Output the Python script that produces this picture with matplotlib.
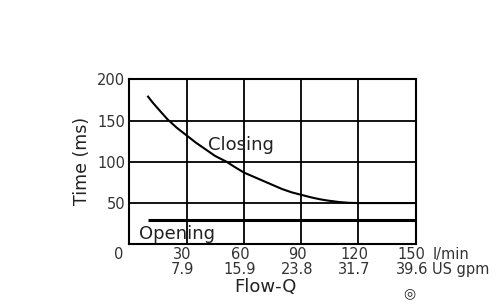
import matplotlib
matplotlib.use("Agg")
import matplotlib.pyplot as plt
import matplotlib.transforms as mtransforms

# Data
closing_flow = [9.5, 12, 15, 20, 25, 30, 35, 40, 45, 51, 55, 60, 65, 70, 75, 80, 85, 90, 95, 100, 104, 110, 115, 120, 135, 150]
closing_time = [180, 172.5, 164.5, 151.5, 141, 132, 123, 115, 107, 100, 94, 87, 82, 77, 72, 67, 63, 60, 57, 54.5, 53, 51.2, 50.3, 50, 50, 50]
opening_flow = [10, 150]
opening_time = [30, 30]
x_ticks = [30, 60, 90, 120, 150]
x_lpm = ["30", "60", "90", "120", "150"]
x_gpm = ["7.9", "15.9", "23.8", "31.7", "39.6"]
y_ticks = [50, 100, 150, 200]

plt.rcParams['font.family'] = ['DejaVu Sans']
fig = plt.figure(figsize=(5, 3.05), dpi=100)
ax = fig.add_axes([0.2586, 0.199, 0.5728, 0.541])
ax.set_xlim(0, 150)
ax.set_ylim(0, 200)

ax.plot(closing_flow, closing_time, color='black', lw=1.5, solid_capstyle='butt', solid_joinstyle='round')
ax.plot(opening_flow, opening_time, color='black', lw=2.2, solid_capstyle='butt')

ax.set_xticks(x_ticks)
ax.set_yticks(y_ticks)
ax.set_yticklabels([str(v) for v in y_ticks], fontsize=10.5, color='#333333')
ax.tick_params(length=0, pad=3)
ax.tick_params(axis='x', labelbottom=False)
ax.grid(True, color='black', lw=1.3)
for s in ax.spines.values():
    s.set_linewidth(1.5)

off = mtransforms.ScaledTranslation(-4/100, -3/100, fig.dpi_scale_trans)
xt = ax.get_xaxis_transform() + off
for x, a, b in zip(x_ticks, x_lpm, x_gpm):
    ax.text(x, 0, f"{a}\n{b}", transform=xt, ha='center', va='top',
            fontsize=10.5, linespacing=1.0, color='#333333')

ax.text(-3, -3, "0", ha='right', va='top', fontsize=10.5, color='#333333')
ax.text(160.8, 0, "l/min\nUS gpm", transform=xt, ha='left', va='top', fontsize=10.5, linespacing=1.0, color='#333333')

ax.text(58.3, 120, "Closing", ha='center', va='center', fontsize=13, color='#222222')
ax.text(5, 13, "Opening", ha='left', va='center', fontsize=13, color='#222222')

fig.text(265/500, 1 - 287/305, "Flow-Q", ha='center', va='center', fontsize=13, color='#222222')
fig.text(82/500, 1 - 161/305, "Time (ms)", ha='center', va='center', rotation=90, fontsize=12.5, color='#222222')
fig.text(409/500, 1 - 293/305, "\u25CE", ha='center', va='center', fontsize=10, color='#222222')

fig.savefig("out.png", dpi=100)
